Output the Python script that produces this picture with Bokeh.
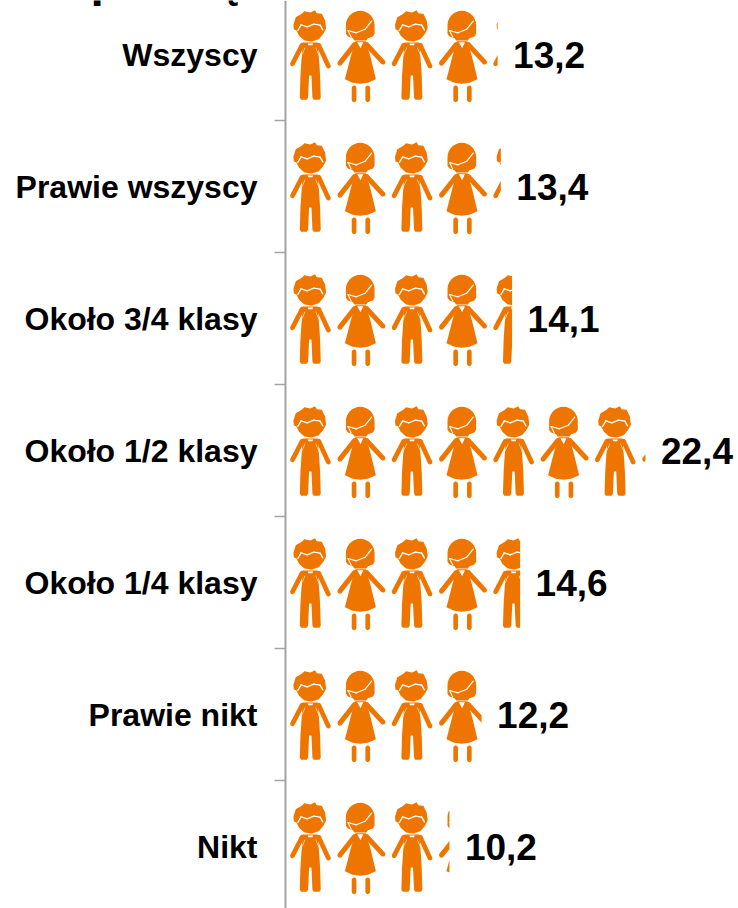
import math
from bokeh.plotting import figure
from bokeh.models import FixedTicker, Range1d
from bokeh.core.properties import value as bk_value
from bokeh.embed import file_html
from bokeh.resources import INLINE

# ---- data ----
categories = ["Nikt", "Prawie nikt", "Około 1/4 klasy", "Około 1/2 klasy",
              "Około 3/4 klasy", "Prawie wszyscy", "Wszyscy"]
values = [10.2, 12.2, 14.6, 22.4, 14.1, 13.4, 13.2]
value_labels = ["10,2", "12,2", "14,6", "22,4", "14,1", "13,4", "13,2"]
title_bits = ["p", "ą"]

# ---- scales (pixels per unit of each axis) ----
X_PX = 16.07
Y_PX = 132.0
AXIS_LEFT = 285
W, H = 738, 908
ROW0_PX = 846  # pixel row of the first category

ORANGE = "#EE7600"
GREY = "#A3A3A3"


def capsule(x0, y0, x1, y1, w, n=6):
    a = math.atan2(y1 - y0, x1 - x0)
    pts = []
    for i in range(n + 1):
        t = a + math.pi / 2 + math.pi * i / n
        pts.append((x0 + w / 2 * math.cos(t), y0 + w / 2 * math.sin(t)))
    for i in range(n + 1):
        t = a - math.pi / 2 + math.pi * i / n
        pts.append((x1 + w / 2 * math.cos(t), y1 + w / 2 * math.sin(t)))
    return pts


def arc(cx, cy, r, a0, a1, n=16, ry=None):
    ry = r if ry is None else ry
    return [(cx + r * math.cos(math.radians(a0 + (a1 - a0) * i / n)),
             cy + ry * math.sin(math.radians(a0 + (a1 - a0) * i / n))) for i in range(n + 1)]


def tr(pts, ox, oy):
    return [((x - ox) / 3.0, (y - oy) / 3.0) for x, y in pts]


def tr_all(polys, ox, oy):
    return [tr(p, ox, oy) for p in polys]


def boy():
    ox, oy = 117, 162
    o = [
        [(67, 72), (74, 50), (92, 40), (100, 32), (118, 36), (132, 29), (137, 38), (152, 40),
         (162, 60), (165, 84), (157, 100), (143, 116), (122, 123), (100, 120), (84, 106), (76, 90), (68, 86)],
        [(95, 126), (140, 126), (144, 180), (147, 225), (149, 292), (145, 298), (128, 298), (124, 292),
         (121, 225), (114, 225), (111, 292), (107, 298), (90, 298), (86, 292), (88, 225), (91, 180)],
        capsule(93, 134, 64, 190, 14),
        capsule(143, 134, 172, 197, 14),
    ]
    w = [
        capsule(80, 90, 90, 73, 4), capsule(90, 73, 108, 79, 4), capsule(108, 79, 128, 71, 4),
        capsule(128, 71, 147, 74, 4), capsule(147, 74, 155, 88, 4),
        [(110, 129), (126, 129), (124, 134), (112, 134)],
        capsule(102, 142, 88, 172, 1.5),
        capsule(134, 142, 147, 172, 1.5),
    ]
    return tr_all(o, ox, oy), tr_all(w, ox, oy)


def girl():
    ox, oy = 269, 162
    o = [
        arc(267, 74, 43, 180, 360) + [(310, 100), (305, 108), (290, 113), (285, 120), (250, 120), (245, 113),
                                       (230, 108), (224, 100)],
        [(252, 122), (284, 122), (298, 170), (314, 236), (290, 247), (267, 250), (244, 247), (221, 236), (238, 170)],
        capsule(250, 132, 206, 188, 15),
        capsule(286, 132, 335, 185, 15),
        capsule(248.5, 262, 248.5, 298, 14),
        capsule(289.5, 262, 289.5, 298, 14),
    ]
    w = [
        capsule(230, 90, 255, 97, 3.5), capsule(255, 97, 282, 86, 3.5), capsule(282, 86, 301, 62, 3.5),
        capsule(230, 90, 240, 110, 3),
        [(258, 125), (276, 125), (268, 143)],
    ]
    return tr_all(o, ox, oy), tr_all(w, ox, oy)


def clip_right(poly, xmax):
    out = []
    n = len(poly)
    for i in range(n):
        a, b = poly[i], poly[(i + 1) % n]
        ain, bin_ = a[0] <= xmax, b[0] <= xmax
        if ain:
            out.append(a)
        if ain != bin_:
            t = (xmax - a[0]) / (b[0] - a[0])
            out.append((xmax, a[1] + t * (b[1] - a[1])))
    return out


BOY, GIRL = boy(), girl()
FIRST = 24.6 / X_PX
PITCH = 50.8 / X_PX

ox, oy, wx, wy = [], [], [], []
for row, v in enumerate(values):
    i = 0
    while True:
        cx = FIRST + i * PITCH
        if cx - 30 / X_PX >= v:
            break
        shapes = BOY if i % 2 == 0 else GIRL
        for polys, xs_out, ys_out in ((shapes[0], ox, oy), (shapes[1], wx, wy)):
            for poly in polys:
                d = [(cx + a / X_PX, row - b / Y_PX) for a, b in poly]
                d = clip_right(d, v)
                if len(d) >= 3:
                    xs_out.append([q[0] for q in d])
                    ys_out.append([q[1] for q in d])
        i += 1

rows = list(range(len(categories)))
x_start = -AXIS_LEFT / X_PX
x_end = (W - AXIS_LEFT) / X_PX
y_start = (ROW0_PX - H) / Y_PX
y_end = ROW0_PX / Y_PX

p = figure(width=W, height=H, output_backend="svg", toolbar_location=None,
           x_range=Range1d(x_start, x_end), y_range=Range1d(y_start, y_end),
           min_border_left=0, min_border_right=0, min_border_top=0, min_border_bottom=0,
           outline_line_color=None, background_fill_color="white")
p.xaxis.visible = False
p.xgrid.visible = False
p.ygrid.visible = False

ax = p.yaxis[0]
ax.fixed_location = 0
ax.ticker = FixedTicker(ticks=rows, minor_ticks=[r + 0.5 for r in rows])
ax.major_label_overrides = {r: c for r, c in zip(rows, categories)}
ax.major_tick_line_color = None
ax.major_tick_out = 0
ax.major_tick_in = 0
ax.minor_tick_out = 11
ax.minor_tick_in = 0
ax.minor_tick_line_color = GREY
ax.minor_tick_line_width = 1.5
ax.axis_line_color = GREY
ax.axis_line_width = 2
ax.major_label_standoff = 17
ax.major_label_text_font = "Liberation Sans"
ax.major_label_text_font_style = "bold"
ax.major_label_text_font_size = "32px"
ax.major_label_text_color = "black"

p.patches(ox, oy, fill_color=ORANGE, line_color=None)
p.patches(wx, wy, fill_color="white", line_color=None)

p.text(x=values, y=rows, text=value_labels, x_offset=15.5, y_offset=0,
       text_font=bk_value("Liberation Sans"), text_font_style="bold", text_font_size="37px",
       text_color="black", text_align="left", text_baseline="middle")

# Bottom edge of the title, cut off by the top of the picture.
title_x = [(90 - AXIS_LEFT) / X_PX, (212 - AXIS_LEFT) / X_PX]
p.text(x=title_x, y=[y_end + 21 / Y_PX] * 2, text=title_bits,
       text_font=bk_value("Liberation Sans"), text_font_style="bold", text_font_size="48px",
       text_color="black", text_align="left", text_baseline="alphabetic")

open("out.html", "w").write(file_html(p, INLINE))
